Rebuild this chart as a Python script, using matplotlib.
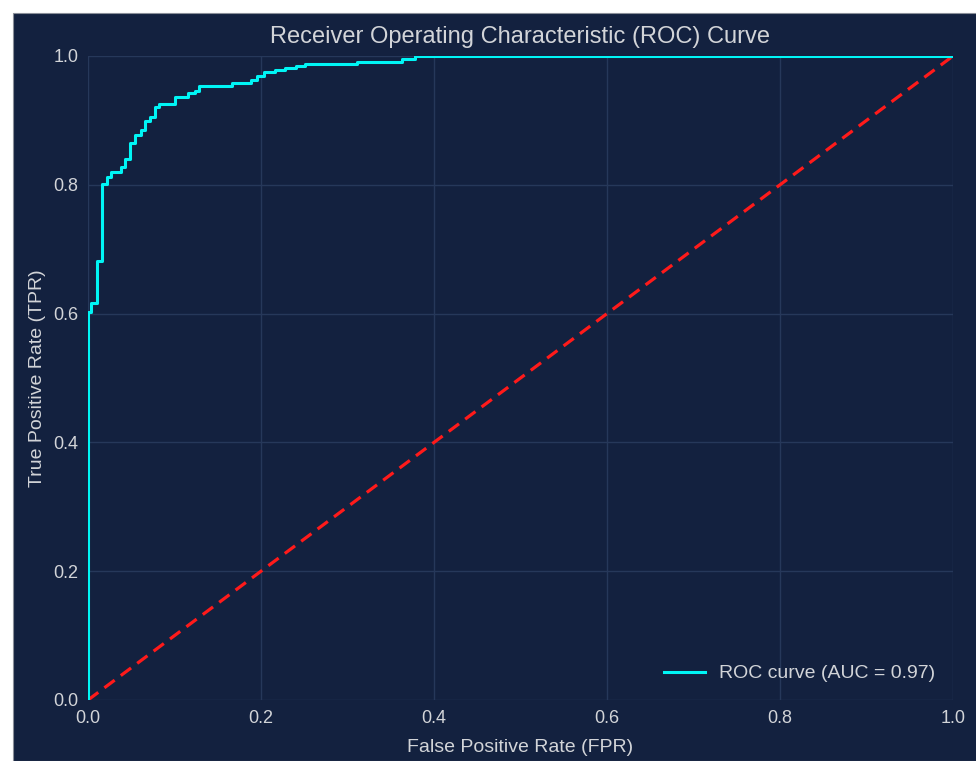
import matplotlib
matplotlib.use("Agg")
import matplotlib.pyplot as plt
from matplotlib.patches import Rectangle

# ROC corner points (top-left corner of each step)
fpr = [0.000, 0.000, 0.004, 0.010, 0.016, 0.022, 0.027, 0.038, 0.043, 0.049,
       0.054, 0.061, 0.066, 0.072, 0.077, 0.082, 0.101, 0.116, 0.124, 0.128,
       0.166, 0.189, 0.195, 0.203, 0.216, 0.228, 0.241, 0.251, 0.311, 0.363,
       0.378, 1.000]
tpr = [0.000, 0.603, 0.616, 0.681, 0.801, 0.812, 0.820, 0.827, 0.840, 0.865,
       0.878, 0.885, 0.899, 0.905, 0.921, 0.925, 0.937, 0.942, 0.946, 0.953,
       0.958, 0.962, 0.969, 0.975, 0.978, 0.982, 0.984, 0.988, 0.991, 0.996,
       1.000, 1.000]
auc_label = "ROC curve (AUC = 0.97)"
diag = [0, 1]

bg = "#13213f"
grid_c = "#26385a"
text_c = "#d2d4d8"

plt.rcParams['font.family'] = ['Liberation Sans', 'DejaVu Sans']

fig = plt.figure(figsize=(9.76, 7.61), dpi=100, facecolor="white")
W, H = 976, 761
fig.add_artist(Rectangle((13 / W, 0), 1, (H - 13) / H, transform=fig.transFigure,
                         facecolor=bg, edgecolor="#8a8f99", linewidth=0.8, zorder=-10))

ax = fig.add_axes([88 / W, (H - 700) / H, (953 - 88) / W, (700 - 56) / H])
ax.set_facecolor(bg)
for s in ax.spines.values():
    s.set_visible(False)

ax.step(fpr, tpr, where="post", color="#00f5f5", linewidth=2.2, label=auc_label, zorder=3)
ax.plot(diag, diag, color="#ff1a1a", linewidth=2.3, linestyle=(0, (4, 2.4)), zorder=2)

ax.set_xlim(0, 1)
ax.set_ylim(0, 1)
ticks = [0, 0.2, 0.4, 0.6, 0.8, 1.0]
ax.set_xticks(ticks)
ax.set_yticks(ticks)
ax.set_xticklabels([f"{t:.1f}" for t in ticks])
ax.set_yticklabels([f"{t:.1f}" for t in ticks])
ax.grid(True, color=grid_c, linewidth=1.0)
ax.set_axisbelow(True)
ax.tick_params(length=0, colors=text_c, labelsize=13, pad=7)

ax.set_title("Receiver Operating Characteristic (ROC) Curve", color=text_c, fontsize=17, pad=9)
ax.set_xlabel("False Positive Rate (FPR)", color=text_c, fontsize=14, labelpad=9)
ax.set_ylabel("True Positive Rate (TPR)", color=text_c, fontsize=14, labelpad=5)

leg = ax.legend(loc="lower right", frameon=False, fontsize=14, handlelength=2.1,
                handletextpad=0.75, bbox_to_anchor=(1.0, 0.0))
for t in leg.get_texts():
    t.set_color(text_c)

fig.savefig("out.png", dpi=100, facecolor=fig.get_facecolor())
